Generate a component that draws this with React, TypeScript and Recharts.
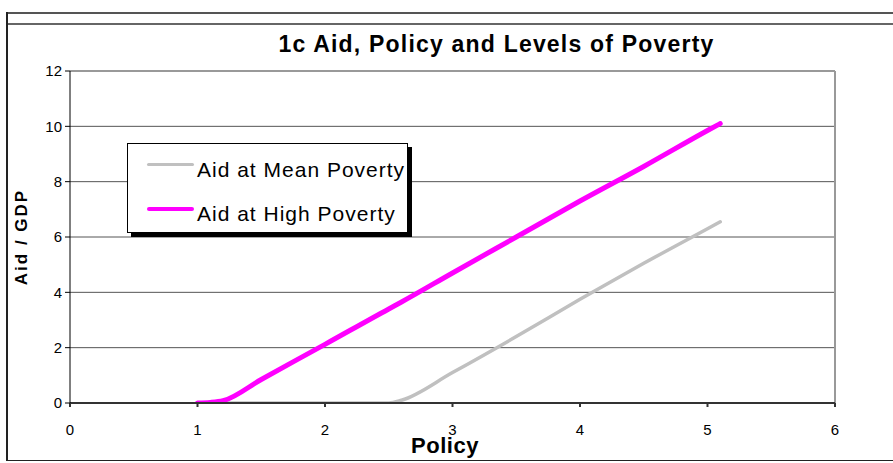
import {
  CartesianGrid,
  Legend,
  Line,
  LineChart,
  ReferenceLine,
  XAxis,
  YAxis,
} from "recharts";

const policy = [1, 1.1, 1.2, 1.5, 2, 2.5, 2.6, 3, 3.5, 4, 4.5, 5, 5.1];
const aidMeanPoverty = [0, 0, 0, 0, 0, 0, 0.1, 1.1, 2.4, 3.75, 5.05, 6.3, 6.55];
const aidHighPoverty = [0, 0.02, 0.08, 0.85, 2.12, 3.4, 3.65, 4.7, 6.0, 7.3, 8.55, 9.85, 10.1];
const xTicks = [0, 1, 2, 3, 4, 5, 6];
const yTicks = [0, 2, 4, 6, 8, 10, 12];

const series = [
  { key: "mean", name: "Aid at Mean Poverty", color: "#c0c0c0", width: 3.5 },
  { key: "high", name: "Aid at High Poverty", color: "#ff00ff", width: 5 },
];

const data = policy.map((p, i) => ({
  policy: p,
  mean: aidMeanPoverty[i],
  high: aidHighPoverty[i],
}));

const font = "'Liberation Sans', Arial, sans-serif";

function LegendBox() {
  return (
    <div
      style={{
        width: 279,
        height: 88,
        border: "1px solid #000",
        background: "#fff",
        boxShadow: "4px 4px 0 #000",
        position: "relative",
        fontFamily: font,
      }}
    >
      {series.map((s, i) => (
        <div key={s.key}>
          <div
            style={{
              position: "absolute",
              left: 19,
              top: 19 + i * 43.5,
              width: 47,
              height: s.width - 1,
              borderRadius: 3,
              background: s.color,
            }}
          />
          <div
            style={{
              position: "absolute",
              left: 69,
              top: 12 + i * 43.5,
              fontSize: 21,
              letterSpacing: 1,
              lineHeight: "28px",
              color: "#000",
              whiteSpace: "nowrap",
            }}
          >
            {s.name}
          </div>
        </div>
      ))}
    </div>
  );
}

export default function App() {
  return (
    <div style={{ position: "absolute", left: 0, top: 0, width: 893, height: 463, background: "#fff" }}>
      {/* frame */}
      <div style={{ position: "absolute", left: 6, top: 12, width: 887, borderTop: "2px solid #555" }} />
      <div style={{ position: "absolute", left: 6, top: 23, width: 887, borderTop: "2px solid #666" }} />
      <div style={{ position: "absolute", left: 6, top: 12, height: 449, borderLeft: "2px solid #222" }} />
      <div style={{ position: "absolute", left: 6, top: 460, width: 887, borderTop: "1px solid #222" }} />

      <div
        style={{
          position: "absolute",
          left: 0,
          width: 893,
          top: 30,
          textAlign: "center",
          paddingLeft: 100,
          boxSizing: "border-box",
          fontFamily: font,
          fontWeight: "bold",
          fontSize: 23,
          letterSpacing: 1.2,
          lineHeight: "28px",
          color: "#000",
        }}
      >
        1c Aid, Policy and Levels of Poverty
      </div>

      <div
        style={{
          position: "absolute",
          left: 22,
          top: 237,
          transform: "translate(-50%, -50%) rotate(-90deg)",
          fontFamily: font,
          fontWeight: "bold",
          fontSize: 17,
          letterSpacing: 2,
          whiteSpace: "nowrap",
          color: "#000",
        }}
      >
        Aid / GDP
      </div>

      <div
        style={{
          position: "absolute",
          left: 445,
          top: 446,
          transform: "translate(-50%, -50%)",
          fontFamily: font,
          fontWeight: "bold",
          fontSize: 22,
          letterSpacing: 0.5,
          whiteSpace: "nowrap",
          color: "#000",
        }}
      >
        Policy
      </div>

      <LineChart
        width={893}
        height={463}
        data={data}
        margin={{ top: 71, right: 58, bottom: 20, left: 30 }}
        style={{ position: "absolute", left: 0, top: 0 }}
      >
        <CartesianGrid horizontal vertical={false} stroke="#555" horizontalValues={[2, 4, 6, 8, 10]} />
        <ReferenceLine y={12} stroke="#999" strokeWidth={2} ifOverflow="extendDomain" />
        <ReferenceLine x={6} stroke="#999" strokeWidth={2} ifOverflow="extendDomain" />
        <XAxis
          dataKey="policy"
          type="number"
          domain={[0, 6]}
          ticks={xTicks}
          height={40}
          stroke="#333"
          strokeWidth={2}
          tickSize={4}
          tickMargin={17}
          tick={{ fill: "#000", fontSize: 15, fontFamily: font }}
          allowDataOverflow
        />
        <YAxis
          type="number"
          domain={[0, 12]}
          ticks={yTicks}
          width={40}
          stroke="#000"
          tickSize={5}
          tickMargin={3}
          tick={{ fill: "#000", fontSize: 15, fontFamily: font }}
          allowDataOverflow
        />
        <Legend
          layout="vertical"
          align="center"
          verticalAlign="middle"
          content={() => <LegendBox />}
          wrapperStyle={{ position: "absolute", left: 127, top: 143, width: 281, height: 90 }}
        />
        {series.map((s) => (
          <Line
            key={s.key}
            type="monotone"
            dataKey={s.key}
            name={s.name}
            stroke={s.color}
            strokeWidth={s.width}
            strokeLinecap="round"
            dot={false}
            activeDot={false}
            isAnimationActive={false}
          />
        ))}
      </LineChart>
    </div>
  );
}
